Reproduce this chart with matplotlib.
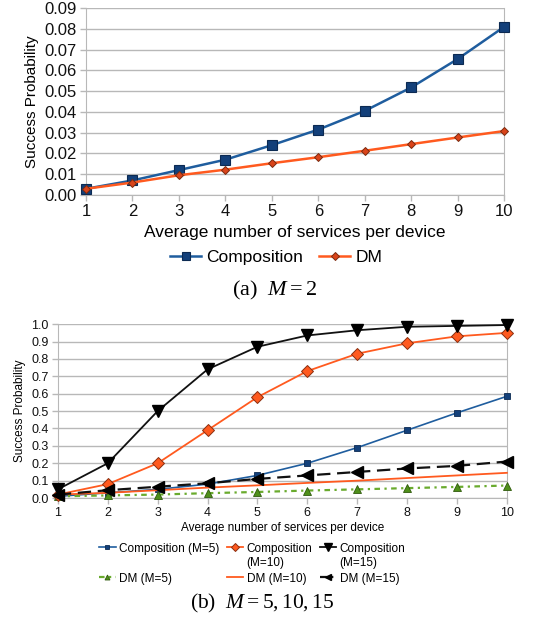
import matplotlib
matplotlib.use("Agg")
import matplotlib.pyplot as plt

plt.rcParams['font.family'] = ['Liberation Sans', 'DejaVu Sans']
plt.rcParams['mathtext.fontset'] = 'custom'
plt.rcParams['mathtext.rm'] = 'Liberation Serif'
plt.rcParams['mathtext.it'] = 'Liberation Serif:italic'

GRID_COL = '#b8b8b8'

# --- data: (a) M = 2
x = [1, 2, 3, 4, 5, 6, 7, 8, 9, 10]
comp_m2 = [0.003, 0.007, 0.012, 0.017, 0.024, 0.0315, 0.0405, 0.0518, 0.0655, 0.081]
dm_m2 = [0.003, 0.006, 0.0095, 0.0122, 0.0153, 0.0182, 0.0213, 0.0245, 0.0277, 0.0308]
yticks_a = [0.0, 0.01, 0.02, 0.03, 0.04, 0.05, 0.06, 0.07, 0.08, 0.09]

# --- data: (b) M = 5, 10, 15
comp_m5 = [0.01, 0.03, 0.05, 0.08, 0.13, 0.20, 0.29, 0.39, 0.49, 0.585]
comp_m10 = [0.02, 0.08, 0.20, 0.39, 0.58, 0.73, 0.83, 0.89, 0.93, 0.95]
comp_m15 = [0.05, 0.20, 0.50, 0.74, 0.87, 0.935, 0.965, 0.985, 0.99, 0.995]
dm_m5 = [0.01, 0.015, 0.02, 0.028, 0.035, 0.043, 0.05, 0.057, 0.064, 0.072]
dm_m10 = [0.02, 0.03, 0.045, 0.06, 0.073, 0.087, 0.10, 0.115, 0.13, 0.145]
dm_m15 = [0.02, 0.045, 0.065, 0.085, 0.11, 0.13, 0.15, 0.17, 0.185, 0.21]
yticks_b = [0.0, 0.1, 0.2, 0.3, 0.4, 0.5, 0.6, 0.7, 0.8, 0.9, 1.0]

XLABEL = "Average number of services per device"
YLABEL = "Success Probability"


def style_axes(ax, yticks, fmt, tick_fs):
    ax.set_xlim(1, 10)
    ax.set_xticks(x)
    ax.set_yticks(yticks)
    ax.set_yticklabels([fmt % v for v in yticks])
    ax.set_ylim(yticks[0], yticks[-1])
    ax.yaxis.grid(True, color=GRID_COL, linewidth=1.0)
    ax.set_axisbelow(True)
    for sp in ax.spines.values():
        sp.set_color(GRID_COL)
    ax.spines['top'].set_visible(False)
    ax.tick_params(axis='both', colors=GRID_COL, labelcolor='#111111',
                   labelsize=tick_fs, length=4, width=1, direction='out', pad=2.5)


fig = plt.figure(figsize=(5.46, 6.21), dpi=100)

# ---------------- (a)
ax1 = fig.add_axes([0.1575, 0.686, 0.766, 0.301])
style_axes(ax1, yticks_a, '%.2f', 12)
ax1.plot(x, comp_m2, '-', color='#1f5d9e', lw=1.8, marker='s', ms=7,
         mfc='#13407a', mec='#0c2a52', mew=0.8, label='Composition', clip_on=False, zorder=3)
ax1.plot(x, dm_m2, '-', color='#ff5a1f', lw=1.8, marker='D', ms=4.5,
         mfc='#d9441a', mec='#7a2a10', mew=0.7, label='DM', clip_on=False, zorder=3)
ax1.set_xlabel(XLABEL, fontsize=12.5, labelpad=4)
ax1.set_ylabel(YLABEL, fontsize=11, labelpad=4)
ax1.legend(loc='center', bbox_to_anchor=(0.506, 0.586), bbox_transform=fig.transFigure,
           ncol=2, frameon=False, fontsize=12.5, handlelength=1.8, handletextpad=0.3,
           columnspacing=0.9, markerscale=0.85)
fig.text(0.503, 0.533, r'(a)  $M = 2$', ha='center', va='center', fontsize=16,
         family='Liberation Serif')

# ---------------- (b)
ax2 = fig.add_axes([0.106, 0.198, 0.8223, 0.280])
style_axes(ax2, yticks_b, '%.1f', 9)
ax2.plot(x, comp_m5, '-', color='#1f5d9e', lw=1.2, marker='s', ms=4.5,
         mfc='#13407a', mec='#0c2a52', mew=0.6, label='Composition (M=5)\n', clip_on=False, zorder=3)
ax2.plot(x, dm_m5, color='#6aab2e', lw=1.6, dashes=(2.5, 2, 1, 2), marker='^', ms=6,
         mfc='#4f8f1a', mec='#2f5a0c', mew=0.6, label='DM (M=5)', clip_on=False, zorder=3)
ax2.plot(x, comp_m10, '-', color='#ff5a1f', lw=1.3, marker='D', ms=6.5,
         mfc='#ff5a1f', mec='#8a2e10', mew=0.7, label='Composition\n(M=10)', clip_on=False, zorder=3)
ax2.plot(x, dm_m10, '-', color='#ff5a1f', lw=1.3, label='DM (M=10)', clip_on=False, zorder=3)
ax2.plot(x, comp_m15, '-', color='#111111', lw=1.3, marker='v', ms=8.5,
         mfc='#000000', mec='#000000', label='Composition\n(M=15)', clip_on=False, zorder=3)
ax2.plot(x, dm_m15, color='#111111', lw=1.6, dashes=(6, 3), marker='<', ms=8,
         mfc='#000000', mec='#000000', label='DM (M=15)', clip_on=False, zorder=3)
ax2.set_xlabel(XLABEL, fontsize=8.5, labelpad=2)
ax2.set_ylabel(YLABEL, fontsize=8.5, labelpad=4)
leg = ax2.legend(loc='center', bbox_to_anchor=(0.462, 0.092), bbox_transform=fig.transFigure,
                 ncol=3, frameon=False, fontsize=8.5, handlelength=1.4, handletextpad=0.3,
                 columnspacing=0.6, labelspacing=0.3, markerscale=0.6)
# keep the handle level with the first text line, like the original
for col in leg._legend_handle_box.get_children():
    for row in col.get_children():
        row.align = 'top'
fig.text(0.48, 0.029, r'(b)  $M = 5, 10, 15$', ha='center', va='center', fontsize=15.5,
         family='Liberation Serif')

fig.savefig('out.png', dpi=100)
